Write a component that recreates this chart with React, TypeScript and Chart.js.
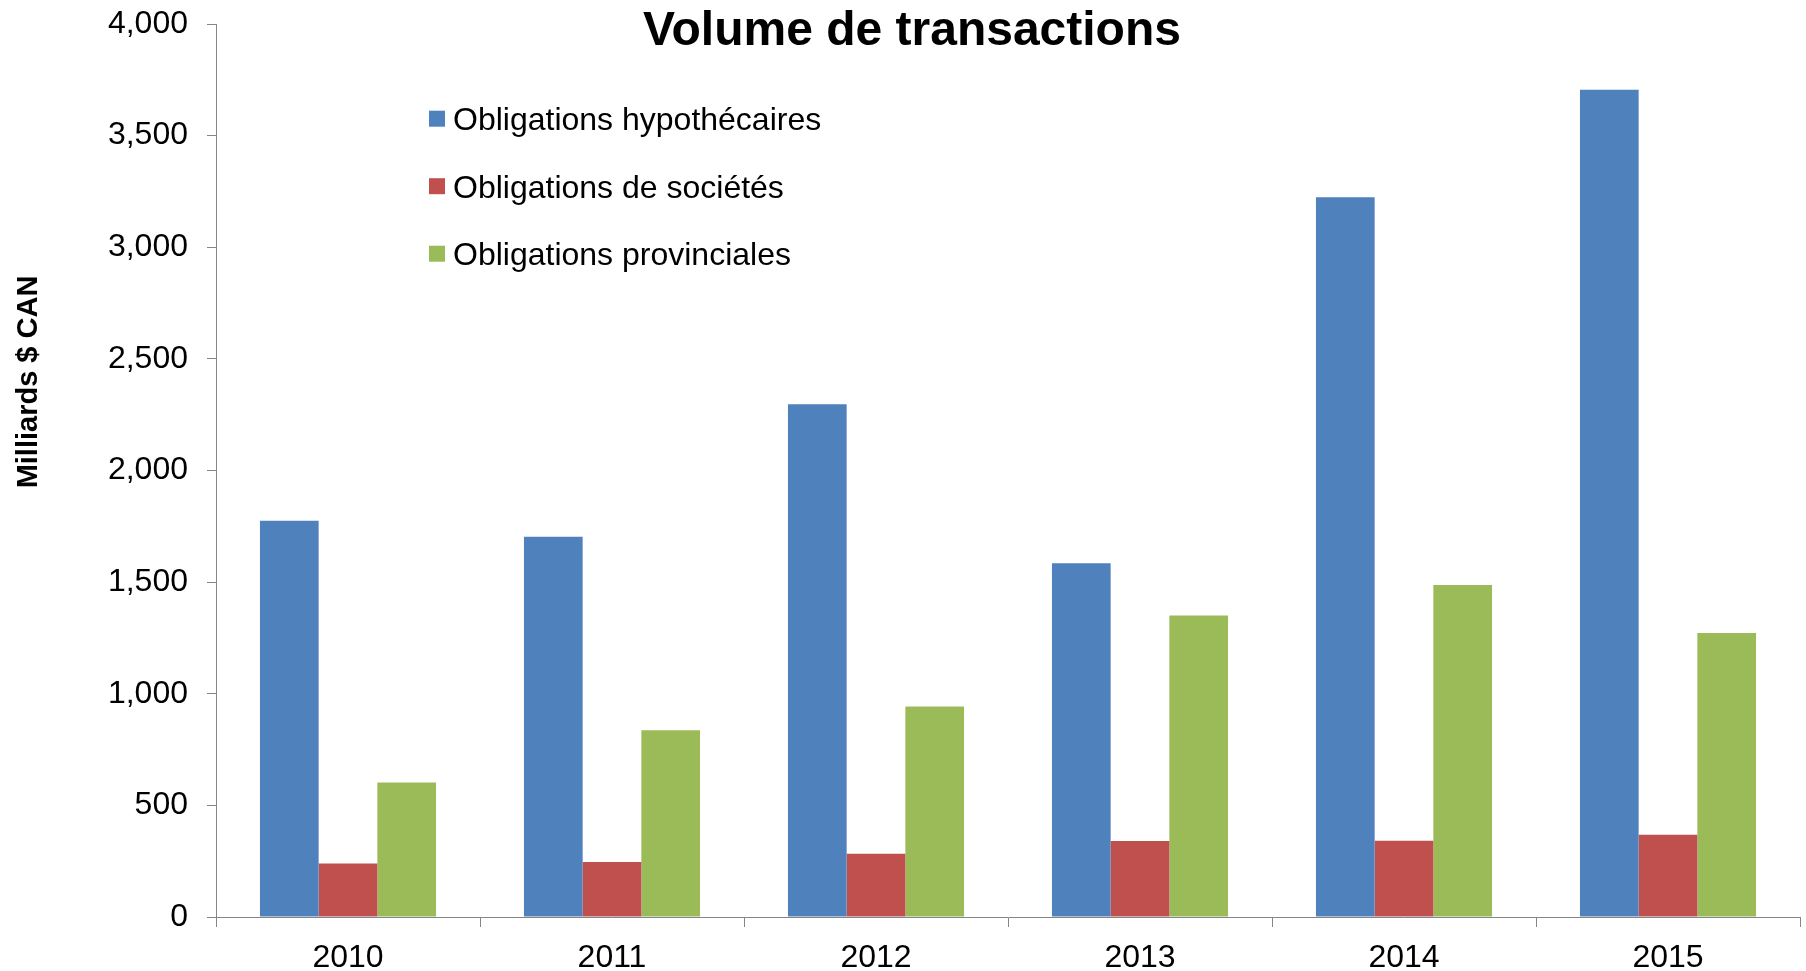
import React, { useEffect, useRef } from "react";
import { Chart, registerables } from "chart.js";

Chart.register(...registerables);

const years = ["2010", "2011", "2012", "2013", "2014", "2015"];
const hypothecaires = [1775, 1703, 2297, 1585, 3224, 3705];
const societes = [240, 246, 283, 340, 342, 368];
const provinciales = [602, 837, 943, 1350, 1487, 1272];
const seriesNames = [
  "Obligations hypothécaires",
  "Obligations de sociétés",
  "Obligations provinciales",
];
const seriesColors = ["#4F81BD", "#C0504D", "#9BBB59"];
const yTicks = [0, 500, 1000, 1500, 2000, 2500, 3000, 3500, 4000];
const chartTitle = "Volume de transactions";
const yAxisTitle = "Milliards $ CAN";

const FONT = '"Liberation Sans", Arial, Helvetica, sans-serif';
const AXIS = "#868686";

const overlayPlugin = {
  id: "overlayText",
  afterDraw(chart: any) {
    const ctx = chart.ctx as CanvasRenderingContext2D;
    ctx.save();
    ctx.fillStyle = "#000";
    // main title
    ctx.font = `bold 48px ${FONT}`;
    ctx.textAlign = "center";
    ctx.textBaseline = "alphabetic";
    ctx.fillText(chartTitle, 912, 45);
    // legend
    ctx.font = `32px ${FONT}`;
    ctx.textAlign = "left";
    chart.data.datasets.forEach((ds: any, i: number) => {
      const cy = 118.7 + i * 67.5;
      ctx.fillStyle = ds.backgroundColor;
      ctx.fillRect(429, cy - 8, 16, 16);
      ctx.fillStyle = "#000";
      ctx.fillText(ds.label, 453, cy + 11.5);
    });
    // y axis title
    ctx.translate(37, 382);
    ctx.rotate(-Math.PI / 2);
    ctx.font = `bold 29px ${FONT}`;
    ctx.textAlign = "center";
    ctx.textBaseline = "alphabetic";
    ctx.fillText(yAxisTitle, 0, 0);
    ctx.restore();
  },
};

export default function App() {
  const canvasRef = useRef<HTMLCanvasElement | null>(null);

  useEffect(() => {
    document.body.style.margin = "0";
    const canvas = canvasRef.current;
    if (!canvas) return;
    const seriesValues = [hypothecaires, societes, provinciales];
    const chart = new Chart(canvas, {
      type: "bar",
      data: {
        labels: years,
        datasets: seriesNames.map((name, i) => ({
          label: name,
          data: seriesValues[i],
          backgroundColor: seriesColors[i],
          borderWidth: 0,
          categoryPercentage: 0.667,
          barPercentage: 1,
        })),
      },
      options: {
        responsive: false,
        animation: false,
        layout: { padding: { top: 24, right: 6, left: 0, bottom: 0 } },
        plugins: {
          legend: { display: false },
          title: { display: false },
          tooltip: { enabled: false },
        },
        scales: {
          x: {
            grid: {
              display: true,
              offset: true,
              drawOnChartArea: false,
              drawTicks: true,
              tickLength: 10,
              color: AXIS,
            },
            border: { display: true, color: AXIS, width: 1 },
            ticks: {
              color: "#000",
              font: { family: FONT, size: 32 },
              padding: 12,
            },
            afterFit: (scale: any) => {
              scale.height = 54;
              scale.paddingLeft = 0;
              scale.paddingRight = 0;
            },
          },
          y: {
            min: 0,
            max: 4000,
            afterBuildTicks: (scale: any) => {
              scale.ticks = yTicks.map((v) => ({ value: v }));
            },
            grid: {
              display: true,
              drawOnChartArea: false,
              drawTicks: true,
              tickLength: 9,
              color: AXIS,
            },
            border: { display: true, color: AXIS, width: 1 },
            ticks: {
              color: "#000",
              font: { family: FONT, size: 32 },
              padding: 19,
              callback: (v: any) => Number(v).toLocaleString("en-US"),
            },
            afterFit: (scale: any) => {
              scale.width = 216;
              scale.paddingTop = 0;
              scale.paddingBottom = 0;
            },
          },
        },
      },
      plugins: [overlayPlugin],
    });
    return () => chart.destroy();
  }, []);

  return (
    <div style={{ width: 1806, height: 971 }}>
      <canvas
        ref={canvasRef}
        width={1806}
        height={971}
        style={{ display: "block", width: 1806, height: 971 }}
      />
    </div>
  );
}
